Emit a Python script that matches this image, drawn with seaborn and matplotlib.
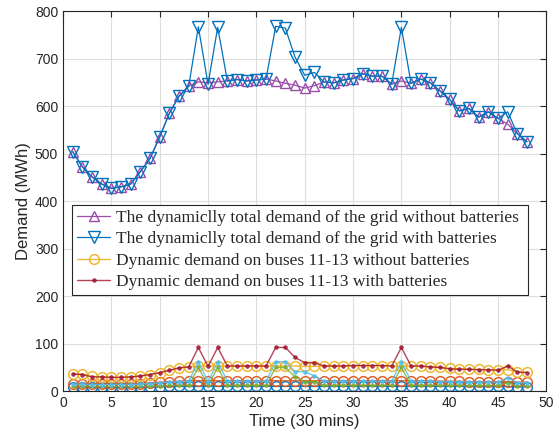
import matplotlib
matplotlib.use("Agg")
import matplotlib.pyplot as plt
import numpy as np
import seaborn as sns

# time slots (30 mins each)
t = np.arange(1, 49)

# total demand of the grid (MWh)
total_no_bat = [504, 472, 451, 436, 427, 430, 436, 462, 490, 535, 585, 621, 642, 651, 649, 651,
                653, 656, 653, 655, 657, 653, 648, 644, 638, 643, 651, 649, 655, 658, 668, 663,
                663, 646, 653, 648, 657, 649, 632, 614, 590, 595, 577, 588, 574, 562, 542, 525]
total_bat = [504, 472, 451, 436, 427, 430, 436, 462, 490, 535, 585, 621, 642, 767, 646, 766,
             653, 656, 653, 655, 657, 768, 764, 703, 665, 671, 651, 649, 655, 658, 668, 663,
             663, 646, 766, 648, 657, 649, 632, 614, 590, 595, 577, 588, 574, 588, 542, 525]

# demand on the bus groups (MWh)
busA_no_bat = [37, 36, 31, 30, 29, 29, 30, 32, 35, 39, 44, 49, 51, 53, 53, 53,
               53, 53, 53, 53, 53, 53, 53, 53, 52, 52, 53, 53, 53, 54, 54, 54,
               54, 53, 53, 53, 53, 51, 50, 48, 47, 46, 46, 45, 45, 45, 41, 40]
busA_bat = [36, 35, 30, 30, 29, 29, 30, 32, 35, 39, 44, 49, 51, 92, 52, 92,
            53, 53, 53, 53, 53, 92, 92, 71, 60, 60, 53, 53, 53, 54, 54, 54,
            54, 53, 92, 53, 53, 51, 50, 47, 46, 46, 45, 45, 44, 53, 40, 39]
busB_no_bat = [16, 16, 15, 15, 15, 15, 15, 16, 17, 19, 20, 21, 22, 22, 22, 22,
               22, 22, 22, 22, 22, 22, 22, 22, 22, 22, 22, 22, 22, 22, 22, 22,
               22, 22, 22, 22, 22, 22, 21, 21, 21, 20, 20, 20, 20, 20, 19, 19]
busB_bat = [15, 15, 14, 14, 14, 14, 14, 15, 16, 18, 19, 20, 21, 62, 20, 62,
            21, 21, 21, 21, 21, 62, 62, 41, 41, 32, 21, 21, 21, 21, 21, 21,
            21, 21, 62, 21, 21, 21, 20, 20, 20, 19, 19, 19, 19, 28, 18, 18]
busC_no_bat = [9, 9, 8, 8, 8, 8, 8, 8, 9, 9, 10, 10, 10, 10, 10, 10,
               10, 10, 10, 10, 10, 10, 10, 10, 10, 10, 10, 10, 10, 10, 10, 10,
               10, 10, 10, 10, 10, 10, 10, 10, 10, 10, 10, 10, 10, 10, 9, 9]
busC_bat = [11, 11, 10, 10, 10, 10, 10, 10, 11, 11, 12, 12, 12, 50, 12, 50,
            12, 12, 12, 12, 12, 50, 50, 30, 20, 20, 12, 12, 12, 12, 12, 12,
            12, 12, 50, 12, 12, 12, 12, 12, 12, 12, 12, 12, 12, 18, 11, 11]

labels = ["The dynamiclly total demand of the grid without batteries",
          "The dynamiclly total demand of the grid with batteries",
          "Dynamic demand on buses 11-13 without batteries",
          "Dynamic demand on buses 11-13 with batteries"]

# matlab-ish colours
c_blue = "#0072BD"
c_orange = "#D95319"
c_yellow = "#EDB120"
c_purple = "#9A4CA8"
c_green = "#77AC30"
c_cyan = "#4DBEEE"
c_red = "#A2142F"

sns.set_style("whitegrid")
plt.rcParams["font.family"] = ["Liberation Sans", "DejaVu Sans"]

fig, ax = plt.subplots(figsize=(5.53, 4.44), dpi=100)
fig.subplots_adjust(left=0.114, right=0.988, bottom=0.119, top=0.975)

# bus groups without batteries (open circles)
sns.lineplot(x=t, y=busC_no_bat, ax=ax, color=c_blue, lw=1, marker="o", ms=7,
             markerfacecolor="none", markeredgecolor=c_blue, markeredgewidth=1.1, alpha=0.9)
sns.lineplot(x=t, y=busB_no_bat, ax=ax, color=c_orange, lw=1, marker="o", ms=7,
             markerfacecolor="none", markeredgecolor=c_orange, markeredgewidth=1.1, alpha=0.9)
l_yellow = sns.lineplot(x=t, y=busA_no_bat, ax=ax, color=c_yellow, lw=1, marker="o", ms=7,
                        markerfacecolor="none", markeredgecolor=c_yellow, markeredgewidth=1.1,
                        alpha=0.9).lines[-1]

# bus groups with batteries (small dots)
sns.lineplot(x=t, y=busC_bat, ax=ax, color=c_green, lw=1, marker="o", ms=2.5,
             markerfacecolor=c_green, markeredgecolor=c_green, alpha=0.8)
sns.lineplot(x=t, y=busB_bat, ax=ax, color=c_cyan, lw=1, marker="o", ms=2.5,
             markerfacecolor=c_cyan, markeredgecolor=c_cyan, alpha=0.8)
l_red = sns.lineplot(x=t, y=busA_bat, ax=ax, color=c_red, lw=1, marker="o", ms=2.5,
                     markerfacecolor=c_red, markeredgecolor=c_red, alpha=0.8).lines[-1]

# total demand
l_purple = sns.lineplot(x=t, y=total_no_bat, ax=ax, color=c_purple, lw=0.9, marker="^", ms=7,
                        markerfacecolor="none", markeredgecolor=c_purple,
                        markeredgewidth=1.0).lines[-1]
l_blue = sns.lineplot(x=t, y=total_bat, ax=ax, color=c_blue, lw=0.9, marker="v", ms=8.5,
                      markerfacecolor="none", markeredgecolor=c_blue,
                      markeredgewidth=1.0).lines[-1]

ax.set_xlim(0, 50)
ax.set_ylim(0, 800)
ax.set_xticks(range(0, 51, 5))
ax.set_yticks(range(0, 801, 100))
ax.grid(True, color="#dedede", lw=0.8)
for s in ax.spines.values():
    s.set_color("#262626")
    s.set_linewidth(0.8)
ax.tick_params(direction="in", length=4, width=0.8, color="#262626", labelsize=10,
               top=True, right=True, labelcolor="#262626")
ax.set_xlabel("Time (30 mins)", fontsize=12, color="#262626", labelpad=3)
ax.set_ylabel("Demand (MWh)", fontsize=12, color="#262626", labelpad=3)

leg = ax.legend([l_purple, l_blue, l_yellow, l_red], labels,
                loc="lower left", bbox_to_anchor=(0.0186, 0.2526, 0.944, 0.236),
                mode="expand", borderaxespad=0, fancybox=False, framealpha=1,
                edgecolor="#262626", handlelength=1.9, handletextpad=0.35,
                labelspacing=0.3, borderpad=0.3,
                prop={"family": "Liberation Serif", "size": 12.5})
leg.get_frame().set_linewidth(0.8)

fig.savefig("out.png", dpi=100)
